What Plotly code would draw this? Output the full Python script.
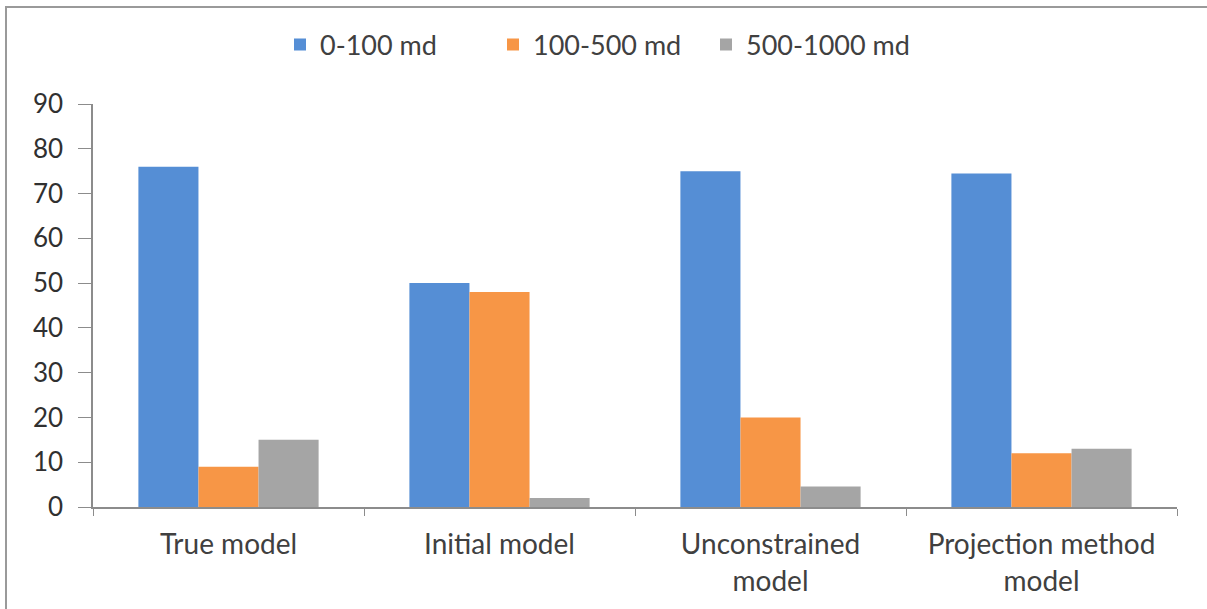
import plotly.graph_objects as go

# Share of grid cells in each permeability class, per model
categories = ["True model", "Initial model", "Unconstrained<br>model", "Projection method<br>model"]
series_names = ["0-100 md", "100-500 md", "500-1000 md"]
perm_0_100 = [76, 50, 75, 74.5]
perm_100_500 = [9, 48, 20, 12]
perm_500_1000 = [15, 2, 4.6, 13]
y_ticks = [0, 10, 20, 30, 40, 50, 60, 70, 80, 90]

colors = ["#558ED5", "#F79646", "#A5A5A5"]
W, H = 1207, 609
M_L, M_R, M_T, M_B = 93, 30, 104, 102
FONT = "Lato"
TEXT_COLOR = "#404040"
AXIS_COLOR = "#8C8C8C"

fig = go.Figure()
for name, vals, col in zip(series_names, [perm_0_100, perm_100_500, perm_500_1000], colors):
    fig.add_trace(go.Bar(x=categories, y=vals, name=name, marker=dict(color=col, line=dict(width=0))))


def px_to_paper_x(px):
    return (px - M_L) / (W - M_L - M_R)


def px_to_paper_y(py):
    return (H - M_B - py) / (H - M_T - M_B)


# Thin frame around the chart area (left and top edges fall inside the page)
fig.add_shape(
    type="rect", xref="paper", yref="paper",
    x0=px_to_paper_x(6), x1=px_to_paper_x(1240),
    y0=px_to_paper_y(640), y1=px_to_paper_y(7),
    line=dict(color="#9A9A9A", width=2), fillcolor="rgba(0,0,0,0)", layer="below",
)

fig.update_layout(
    width=W, height=H,
    margin=dict(l=M_L, r=M_R, t=M_T, b=M_B),
    paper_bgcolor="white", plot_bgcolor="white",
    barmode="group", bargap=0.335, bargroupgap=0,
    font=dict(family=FONT, color=TEXT_COLOR),
    showlegend=True,
    legend=dict(
        orientation="h", x=px_to_paper_x(280), xanchor="left", y=px_to_paper_y(45), yanchor="middle",
        font=dict(size=27, family=FONT, color=TEXT_COLOR),
        itemwidth=30, traceorder="normal",
        entrywidth=168, entrywidthmode="pixels",
    ),
    xaxis=dict(
        showline=True, linecolor=AXIS_COLOR, linewidth=1.5,
        ticks="outside", tickson="boundaries", ticklen=7, tickcolor=AXIS_COLOR,
        tickfont=dict(size=28, family=FONT, color=TEXT_COLOR),
        ticklabelstandoff=12,
        showgrid=False, zeroline=False,
    ),
    yaxis=dict(
        range=[0, 90], tickvals=y_ticks,
        showline=True, linecolor=AXIS_COLOR, linewidth=1.5,
        ticks="outside", ticklen=13, tickcolor=AXIS_COLOR,
        tickfont=dict(size=26, family=FONT, color="#303030"),
        ticklabelstandoff=10,
        showgrid=False, zeroline=False,
    ),
)

fig.write_html("out.html")
